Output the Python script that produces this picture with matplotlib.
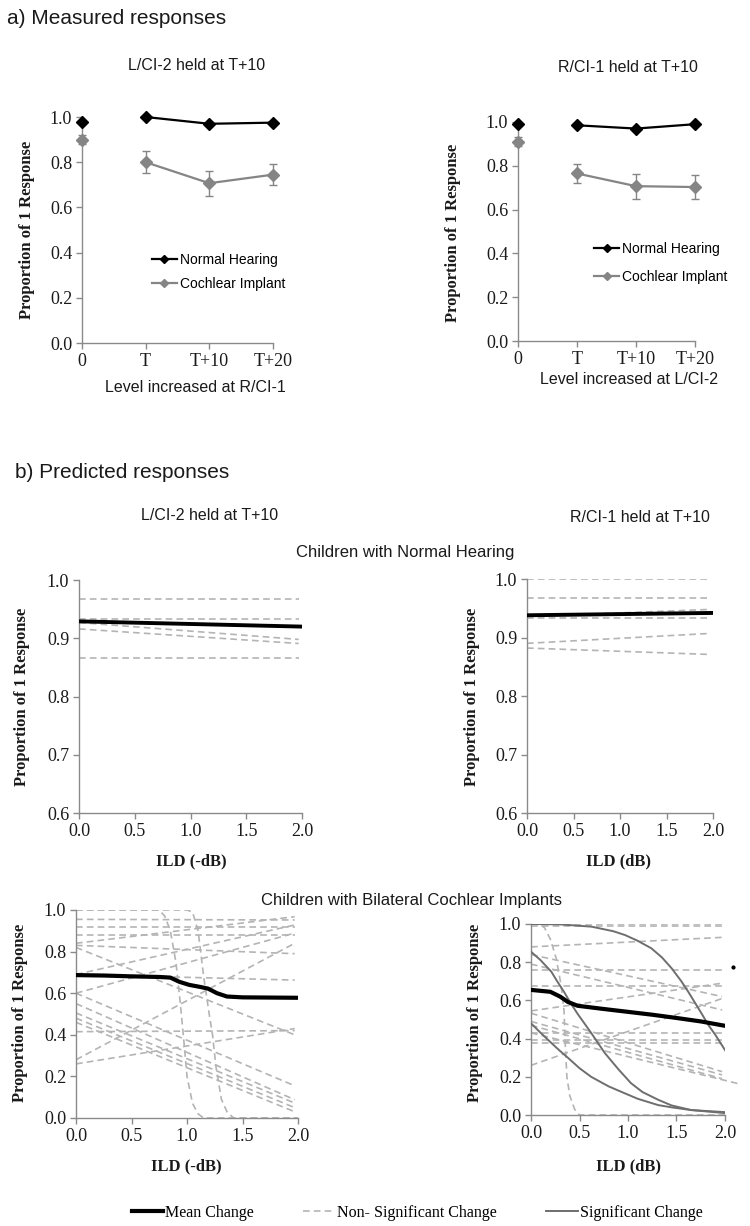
import numpy as np
import matplotlib.pyplot as plt
from matplotlib.lines import Line2D

# ---- data ----
levels = ['0', 'T', 'T+10', 'T+20']

# a) measured, left panel (L/CI-2 held at T+10)
nh_left = [0.98, 1.0, 0.97, 0.975]
ci_left = [0.90, 0.80, 0.707, 0.745]
ci_left_err = [0.02, 0.048, 0.055, 0.047]

# a) measured, right panel (R/CI-1 held at T+10)
nh_right = [0.99, 0.985, 0.97, 0.99]
ci_right = [0.91, 0.765, 0.707, 0.703]
ci_right_err = [0.02, 0.045, 0.057, 0.055]

# b) predicted, ILD end points (x = 0 and x = 2 dB)
ild = [0.0, 2.0]

# normal hearing, left
nh_l_mean = [0.929, 0.920]
nh_l_ns = [[0.968, 0.968], [0.933, 0.933], [0.927, 0.898], [0.916, 0.891],
           [0.866, 0.866]]
# normal hearing, right
nh_r_mean = [0.938, 0.942]
nh_r_ns = [[1.0, 1.0], [0.968, 0.968], [0.936, 0.948], [0.933, 0.933],
           [0.890, 0.907], [0.882, 0.871]]

# bilateral CI, left
ci_l_mean_x = [0.0, 0.25, 0.5, 0.75, 0.85, 0.93, 1.02, 1.12, 1.19, 1.27, 1.36, 1.5, 2.0]
ci_l_mean_y = [0.687, 0.685, 0.681, 0.678, 0.675, 0.655, 0.64, 0.63, 0.622, 0.60, 0.584, 0.58, 0.578]
ci_l_ns = [[0.955, 0.952], [0.918, 0.918], [0.88, 0.88], [0.84, 0.968],
           [0.69, 0.928], [0.60, 0.889], [0.82, 0.40], [0.83, 0.79],
           [0.69, 0.663], [0.28, 0.84], [0.60, 0.155], [0.55, 0.088],
           [0.505, 0.072], [0.48, 0.05], [0.46, 0.03], [0.415, 0.42],
           [0.26, 0.43]]
ci_l_drop1_x = [0.0, 0.75, 0.8, 0.85, 0.9, 0.94, 0.97, 1.0, 1.05, 1.1, 1.15, 2.0]
ci_l_drop1_y = [1.0, 1.0, 0.97, 0.9, 0.75, 0.55, 0.38, 0.2, 0.07, 0.02, 0.0, 0.0]
ci_l_drop2_x = [0.0, 1.0, 1.05, 1.1, 1.15, 1.2, 1.23, 1.26, 1.31, 1.36, 1.42, 2.0]
ci_l_drop2_y = [1.0, 1.0, 0.99, 0.9, 0.68, 0.5, 0.4, 0.25, 0.09, 0.03, 0.0, 0.0]

# bilateral CI, right
ci_r_mean_x = [0.0, 0.2, 0.3, 0.38, 0.48, 0.75, 1.0, 1.25, 1.5, 1.75, 2.0]
ci_r_mean_y = [0.655, 0.645, 0.62, 0.592, 0.572, 0.555, 0.54, 0.525, 0.508, 0.49, 0.467]
ci_r_ns = [[1.0, 1.0], [0.99, 0.99], [0.88, 0.93], [0.84, 0.62], [0.79, 0.55],
           [0.757, 0.757], [0.675, 0.675], [0.545, 0.69], [0.26, 0.61],
           [0.43, 0.43], [0.393, 0.393], [0.377, 0.377], [0.533, 0.227],
           [0.49, 0.21], [0.47, 0.19]]
ci_r_long_x = [0.0, 2.13]
ci_r_long_y = [0.43, 0.165]
ci_r_drop_x = [0.0, 0.1, 0.14, 0.2, 0.26, 0.31, 0.34, 0.355, 0.37, 0.4, 0.45, 0.5, 2.0]
ci_r_drop_y = [1.0, 0.995, 0.98, 0.92, 0.82, 0.68, 0.55, 0.35, 0.2, 0.1, 0.03, 0.0, 0.0]
sig_x = [[0.0, 0.3, 0.625, 0.85, 0.97, 1.1, 1.24, 1.35, 1.45, 1.55, 1.62, 1.7,
          1.76, 1.83, 1.9, 1.95, 2.0],
         [0.0, 0.1, 0.21, 0.27, 0.34, 0.41, 0.48, 0.55, 0.62, 0.76, 0.9, 1.03,
          1.15, 1.31, 1.45, 1.65, 2.0],
         [0.0, 0.1, 0.21, 0.3, 0.38, 0.5, 0.62, 0.8, 0.96, 1.1, 1.31, 1.45,
          1.65, 2.0]]
sig_y = [[1.0, 0.998, 0.986, 0.962, 0.942, 0.912, 0.873, 0.825, 0.768, 0.70,
          0.646, 0.58, 0.53, 0.47, 0.42, 0.38, 0.34],
         [0.855, 0.81, 0.75, 0.70, 0.645, 0.585, 0.53, 0.48, 0.43, 0.325, 0.24,
          0.167, 0.12, 0.08, 0.05, 0.026, 0.01],
         [0.48, 0.43, 0.377, 0.335, 0.30, 0.245, 0.20, 0.15, 0.115, 0.085,
          0.052, 0.04, 0.026, 0.015]]
stray_dot = (2.08, 0.775)

# ---- style ----
W, H = 750, 1226
SERIF = 'Liberation Serif'
SANS = 'Liberation Sans'
AXCOL = '#8a8a8a'
NSCOL = '#b4b4b4'
SIGCOL = '#6e6e6e'
CIGRAY = '#858585'
DASH = (4, 2.5)

fig = plt.figure(figsize=(W / 100, H / 100), dpi=100)


def add_ax(l, r, t, b):
    return fig.add_axes([l / W, 1 - b / H, (r - l) / W, (b - t) / H])


def ftext(x, y, s, size, family=SANS, weight='normal', rot=0, ha='center'):
    fig.text(x / W, 1 - y / H, s, fontsize=size, family=family,
             weight=weight, rotation=rot, ha=ha, va='center', color='#1a1a1a')


def style(ax):
    for s in ['top', 'right']:
        ax.spines[s].set_visible(False)
    for s in ['left', 'bottom']:
        ax.spines[s].set_color(AXCOL)
        ax.spines[s].set_linewidth(1.0)
    ax.tick_params(colors=AXCOL, length=4, width=1, labelcolor='#1a1a1a',
                   labelsize=13, pad=3)
    for lab in ax.get_xticklabels() + ax.get_yticklabels():
        lab.set_family(SERIF)


def measured(ax, nh, ci, err, leg_anchor, spacing):
    pos = np.arange(len(levels))
    ax.plot(pos[1:], nh[1:], color='black', marker='D', ms=6.5, lw=1.6,
            clip_on=False, zorder=5, label='Normal Hearing')
    ax.plot(pos[:1], nh[:1], color='black', marker='D', ms=6.5, ls='none',
            clip_on=False, zorder=5)
    ax.errorbar(pos[1:], ci[1:], yerr=err[1:], color=CIGRAY, marker='D',
                ms=6.5, lw=1.6, capsize=3, elinewidth=1, clip_on=False,
                zorder=4, label='Cochlear Implant')
    ax.errorbar(pos[:1], ci[:1], yerr=err[:1], color=CIGRAY, marker='D',
                ms=6.5, ls='none', capsize=3, elinewidth=1, clip_on=False,
                zorder=4)
    ax.set_xlim(0, 3)
    ax.set_ylim(0, 1.0)
    ax.set_xticks(pos)
    ax.set_xticklabels(levels)
    ax.set_yticks(np.arange(0, 1.01, 0.2))
    ax.set_yticklabels([f'{v:.1f}' for v in np.arange(0, 1.01, 0.2)])
    style(ax)
    h = [Line2D([0], [0], color='black', marker='D', ms=4, lw=1.6),
         Line2D([0], [0], color=CIGRAY, marker='D', ms=4, lw=1.6)]
    ax.legend(h, ['Normal Hearing', 'Cochlear Implant'], loc='center left',
              bbox_to_anchor=leg_anchor, frameon=False, handlelength=1.8,
              handletextpad=0.2, labelspacing=spacing,
              prop={'family': SANS, 'size': 10})


def predicted(ax, ylim, yticks):
    ax.set_xlim(0, 2)
    ax.set_ylim(*ylim)
    ax.set_xticks(np.arange(0, 2.01, 0.5))
    ax.set_xticklabels([f'{v:.1f}' for v in np.arange(0, 2.01, 0.5)])
    ax.set_yticks(yticks)
    ax.set_yticklabels([f'{v:.1f}' for v in yticks])
    style(ax)


def ns_line(ax, x, y, clip=True):
    ax.plot(x, y, color=NSCOL, lw=1.2, dashes=DASH, clip_on=clip, zorder=2)


# ---- a) measured ----
ax1 = add_ax(82, 273, 117, 343)
measured(ax1, nh_left, ci_left, ci_left_err, (0.3, 0.315), 0.75)
ax2 = add_ax(518, 695, 122, 341)
measured(ax2, nh_right, ci_right, ci_right_err, (0.36, 0.355), 1.0)

ftext(7, 18, 'a) Measured responses', 15, ha='left')
ftext(197, 65, 'L/CI-2 held at T+10', 11.5)
ftext(628, 67, 'R/CI-1 held at T+10', 11.5)
ftext(195, 388, 'Level increased at R/CI-1', 11.5)
ftext(629, 380, 'Level increased at L/CI-2', 11.5)
ftext(27, 230, 'Proportion of 1 Response', 12, SERIF, 'bold', 90)
ftext(453, 233, 'Proportion of 1 Response', 12, SERIF, 'bold', 90)

# ---- b) predicted: normal hearing ----
nh_ticks = np.arange(0.6, 1.01, 0.1)
ax3 = add_ax(79, 302, 580, 813)
for y in nh_l_ns:
    ns_line(ax3, [ild[0], 1.97], y)
ax3.plot(ild, nh_l_mean, color='black', lw=2.8, zorder=4)
predicted(ax3, (0.6, 1.0), nh_ticks)

ax4 = add_ax(527, 713, 579, 813)
for y in nh_r_ns:
    ns_line(ax4, [ild[0], 1.97], y)
ax4.plot(ild, nh_r_mean, color='black', lw=2.8, zorder=4)
predicted(ax4, (0.6, 1.0), nh_ticks)

# ---- b) predicted: bilateral CI ----
ci_ticks = np.arange(0, 1.01, 0.2)
ax5 = add_ax(76, 298, 910, 1118)
for y in ci_l_ns:
    ns_line(ax5, [ild[0], 1.97], y)
ns_line(ax5, ci_l_drop1_x, ci_l_drop1_y)
ns_line(ax5, ci_l_drop2_x, ci_l_drop2_y)
ax5.plot(ci_l_mean_x, ci_l_mean_y, color='black', lw=3, zorder=4)
predicted(ax5, (0, 1.0), ci_ticks)

ax6 = add_ax(531, 725, 924, 1115)
for y in ci_r_ns:
    ns_line(ax6, [ild[0], 1.97], y)
ns_line(ax6, ci_r_long_x, ci_r_long_y, clip=False)
ns_line(ax6, ci_r_drop_x, ci_r_drop_y)
for x, y in zip(sig_x, sig_y):
    ax6.plot(x, y, color=SIGCOL, lw=1.4, zorder=3)
ax6.plot(ci_r_mean_x, ci_r_mean_y, color='black', lw=3, zorder=4)
ax6.plot(*stray_dot, marker='o', ms=2, color='black', clip_on=False)
predicted(ax6, (0, 1.0), ci_ticks)

ftext(15, 472, 'b) Predicted responses', 15, ha='left')
ftext(210, 516, 'L/CI-2 held at T+10', 11.5)
ftext(640, 517, 'R/CI-1 held at T+10', 11.5)
ftext(405, 552, 'Children with Normal Hearing', 12)
ftext(411, 900, 'Children with Bilateral Cochlear Implants', 12)
ftext(191, 861, 'ILD (-dB)', 12, SERIF, 'bold')
ftext(619, 861, 'ILD (dB)', 12, SERIF, 'bold')
ftext(186, 1166, 'ILD (-dB)', 12, SERIF, 'bold')
ftext(628, 1166, 'ILD (dB)', 12, SERIF, 'bold')
for x, y in [(22, 697), (472, 697), (20, 1013), (475, 1013)]:
    ftext(x, y, 'Proportion of 1 Response', 12, SERIF, 'bold', 90)

# ---- bottom legend ----
handles = [Line2D([0], [0], color='black', lw=3),
           Line2D([0], [0], color=NSCOL, lw=1.2, dashes=DASH),
           Line2D([0], [0], color=SIGCOL, lw=1.4)]
fig.legend(handles, ['Mean Change', 'Non- Significant Change', 'Significant Change'],
           loc='center', bbox_to_anchor=(417 / W, 1 - 1213 / H), ncol=3,
           frameon=False, handlelength=2.0, handletextpad=0.1,
           columnspacing=3.1, prop={'family': SERIF, 'size': 11.5})

fig.savefig('out.png', dpi=100)
